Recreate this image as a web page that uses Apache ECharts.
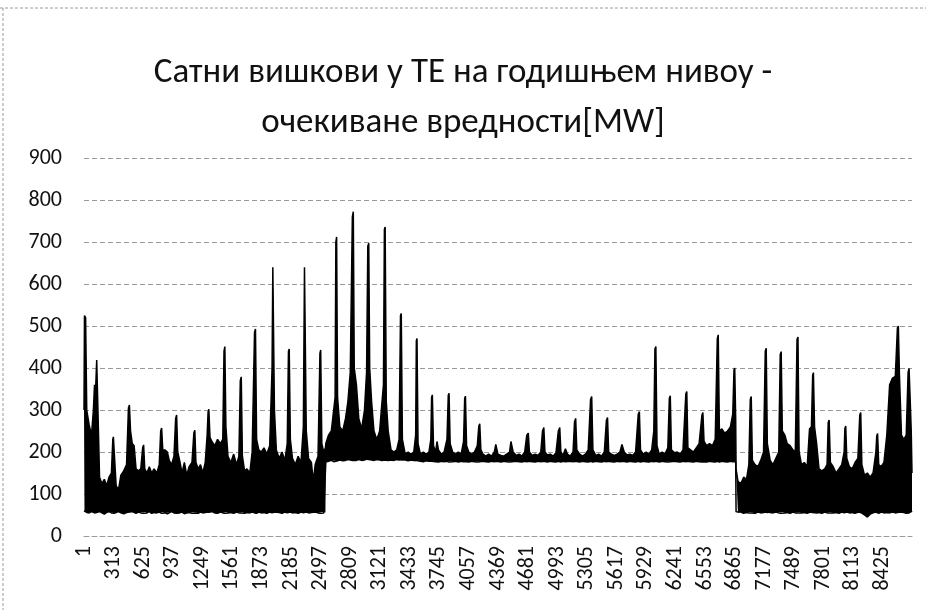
<!DOCTYPE html>
<html>
<head>
<meta charset="utf-8">
<title>Сатни вишкови у ТЕ</title>
<script src="https://cdn.jsdelivr.net/npm/echarts@6/dist/echarts.min.js"></script>
<style>
  html, body { margin: 0; padding: 0; background: #ffffff; }
  #chart { width: 926px; height: 610px; }
</style>
</head>
<body>
<div id="chart"></div>
<script>
// Chart texts and axis settings
const titleText = 'Сатни вишкови у ТЕ на годишњем нивоу -\nочекиване вредности[MW]';
const hourCount = 8736;          // 52 weeks of hourly values
const xLabelStep = 312;          // a label every 312 hours: 1, 313, 625 ...
const yMin = 0, yMax = 900, yStep = 100;

// Hourly surplus envelope per part of the year: [hour, lowest MW, highest MW]
const envelopeWinterSpring = [
  [1, 60, 300], [6, 60, 525], [18, 58, 520], [30, 56, 300], [55, 55, 265], [80, 58, 240],
  [100, 57, 300], [112, 55, 360], [122, 58, 340], [135, 56, 419], [148, 55, 300], [165, 58, 140],
  [190, 55, 125], [215, 52, 135], [240, 56, 120], [265, 58, 140], [290, 55, 150], [305, 57, 230],
  [311, 55, 236], [320, 54, 200], [340, 56, 120], [365, 58, 110], [390, 55, 145], [420, 53, 155],
  [450, 56, 170], [470, 55, 305], [480, 57, 312], [492, 55, 250], [510, 58, 220], [530, 56, 215],
  [550, 54, 160], [575, 57, 155], [600, 55, 160], [620, 56, 210], [630, 54, 217], [642, 57, 160],
  [665, 55, 150], [690, 58, 165], [715, 54, 150], [740, 56, 160], [770, 55, 150], [795, 57, 170],
  [810, 56, 250], [820, 54, 257], [832, 57, 205], [855, 55, 205], [880, 53, 200], [900, 56, 180],
  [925, 58, 170], [950, 55, 190], [968, 57, 280], [978, 54, 288], [990, 56, 200], [1010, 55, 180],
  [1035, 57, 150], [1060, 53, 175], [1085, 55, 145], [1110, 56, 165], [1140, 54, 175], [1160, 57, 245],
  [1170, 55, 252], [1182, 56, 175], [1205, 54, 160], [1230, 57, 170], [1255, 55, 150], [1280, 56, 175],
  [1300, 54, 240], [1310, 57, 295], [1318, 55, 302], [1330, 56, 235], [1350, 58, 225], [1380, 55, 215],
  [1410, 54, 230], [1440, 57, 220], [1465, 55, 230], [1478, 56, 440], [1487, 54, 451], [1498, 57, 260],
  [1520, 55, 190], [1550, 56, 175], [1580, 54, 195], [1610, 57, 170], [1635, 55, 190], [1650, 56, 370],
  [1660, 55, 379], [1672, 57, 190], [1695, 54, 155], [1720, 56, 160], [1750, 55, 150], [1775, 57, 200],
  [1800, 55, 485], [1810, 56, 493], [1822, 54, 230], [1845, 57, 205], [1870, 55, 200], [1900, 56, 210],
  [1930, 54, 195], [1960, 57, 215], [1985, 55, 400], [1993, 56, 640], [2001, 55, 643], [2010, 57, 300],
  [2030, 55, 205], [2060, 56, 185], [2090, 54, 200], [2120, 57, 180], [2145, 55, 220], [2158, 56, 440],
  [2166, 54, 445], [2178, 57, 230], [2200, 55, 185], [2230, 56, 170], [2260, 54, 190], [2290, 57, 175],
  [2315, 55, 260], [2327, 56, 640], [2335, 55, 643], [2346, 57, 250], [2370, 55, 185], [2400, 56, 175],
  [2420, 54, 130], [2440, 57, 170], [2470, 55, 190], [2490, 56, 435], [2498, 54, 443], [2510, 57, 220],
  [2530, 55, 200], [2548, 56, 210]
];

const envelopeSummer = [
  [2552, 176, 220], [2580, 178, 240], [2610, 180, 250], [2635, 177, 300], [2650, 179, 330], [2658, 178, 700],
  [2666, 180, 712], [2676, 178, 330], [2700, 181, 260], [2730, 179, 250], [2760, 180, 280], [2785, 182, 320],
  [2810, 181, 390], [2832, 180, 760], [2842, 182, 772], [2852, 181, 400], [2875, 180, 360], [2900, 182, 280],
  [2930, 180, 255], [2960, 181, 300], [2982, 183, 390], [2995, 181, 690], [3005, 182, 697], [3015, 180, 400],
  [3035, 181, 320], [3060, 180, 250], [3090, 182, 230], [3120, 181, 250], [3145, 180, 320], [3160, 182, 360],
  [3170, 181, 730], [3178, 180, 736], [3190, 182, 320], [3210, 180, 250], [3240, 181, 205], [3270, 180, 200],
  [3300, 182, 205], [3325, 181, 230], [3340, 180, 525], [3348, 182, 530], [3360, 180, 230], [3390, 181, 195],
  [3420, 179, 200], [3450, 181, 195], [3480, 180, 200], [3500, 178, 240], [3507, 180, 465], [3514, 179, 470],
  [3525, 181, 220], [3550, 178, 195], [3580, 177, 200], [3610, 179, 195], [3640, 178, 200], [3660, 176, 230],
  [3668, 178, 330], [3676, 177, 336], [3688, 179, 215], [3710, 177, 200], [3725, 178, 225], [3740, 176, 205],
  [3770, 178, 195], [3800, 177, 200], [3830, 178, 230], [3844, 177, 335], [3852, 176, 340], [3864, 178, 220],
  [3890, 177, 200], [3920, 178, 195], [3950, 176, 200], [3980, 178, 195], [4005, 177, 225], [4017, 176, 328],
  [4025, 178, 333], [4037, 177, 215], [4060, 176, 200], [4090, 178, 195], [4120, 177, 200], [4150, 176, 215],
  [4166, 178, 262], [4176, 177, 267], [4188, 176, 205], [4210, 178, 195], [4240, 177, 190], [4270, 176, 195],
  [4300, 178, 190], [4330, 177, 200], [4345, 176, 218], [4355, 178, 221], [4368, 177, 195], [4400, 176, 192],
  [4430, 178, 190], [4460, 177, 195], [4490, 176, 200], [4505, 178, 225], [4515, 177, 229], [4528, 176, 200],
  [4560, 178, 192], [4590, 177, 195], [4620, 176, 190], [4650, 178, 200], [4672, 177, 240], [4688, 176, 245],
  [4700, 178, 200], [4730, 177, 192], [4760, 176, 195], [4790, 178, 192], [4820, 177, 200], [4838, 176, 250],
  [4852, 178, 258], [4864, 177, 200], [4890, 176, 193], [4920, 178, 195], [4950, 177, 190], [4980, 176, 198],
  [5005, 178, 250], [5020, 177, 258], [5032, 176, 200], [5055, 178, 192], [5080, 177, 208], [5100, 176, 195],
  [5130, 178, 190], [5160, 177, 200], [5176, 176, 272], [5188, 178, 280], [5200, 177, 205], [5230, 176, 195],
  [5260, 178, 190], [5290, 177, 195], [5320, 176, 205], [5345, 178, 325], [5357, 177, 332], [5370, 176, 205],
  [5400, 178, 192], [5430, 177, 195], [5460, 176, 190], [5490, 178, 200], [5512, 177, 275], [5524, 176, 282],
  [5536, 178, 200], [5565, 177, 195], [5595, 176, 192], [5625, 178, 195], [5655, 177, 200], [5676, 176, 218],
  [5686, 178, 221], [5700, 177, 200], [5730, 176, 193], [5760, 178, 195], [5790, 177, 192], [5820, 176, 200],
  [5848, 178, 290], [5860, 177, 296], [5872, 176, 205], [5900, 178, 195], [5930, 177, 200], [5960, 176, 195],
  [5990, 178, 205], [6012, 177, 250], [6024, 176, 445], [6034, 178, 451], [6046, 177, 215], [6070, 176, 195],
  [6100, 178, 200], [6130, 177, 195], [6160, 176, 210], [6176, 178, 328], [6186, 177, 334], [6198, 176, 205],
  [6230, 178, 198], [6260, 177, 200], [6290, 176, 195], [6320, 178, 205], [6350, 177, 338], [6360, 176, 344],
  [6372, 178, 210], [6400, 177, 205], [6430, 176, 200], [6460, 178, 210], [6490, 177, 220], [6520, 176, 288],
  [6530, 178, 294], [6542, 177, 225], [6570, 176, 215], [6600, 178, 220], [6630, 177, 215], [6660, 176, 230],
  [6682, 178, 470], [6692, 177, 479], [6704, 176, 250], [6730, 178, 255], [6760, 177, 245], [6790, 176, 250],
  [6820, 178, 260], [6845, 177, 290], [6858, 176, 395], [6866, 178, 400], [6876, 177, 280]
];

const envelopeAutumnWinter = [
  [6880, 58, 160], [6900, 55, 130], [6930, 57, 125], [6960, 54, 140], [6990, 56, 135], [7015, 55, 170],
  [7030, 57, 325], [7040, 55, 332], [7052, 56, 180], [7080, 54, 170], [7110, 57, 165], [7140, 55, 180],
  [7170, 56, 200], [7188, 55, 440], [7198, 57, 447], [7210, 54, 220], [7240, 56, 180], [7270, 55, 170],
  [7300, 57, 185], [7330, 55, 200], [7346, 56, 432], [7356, 54, 439], [7368, 57, 250], [7395, 55, 240],
  [7420, 56, 220], [7450, 54, 215], [7480, 57, 205], [7505, 55, 200], [7523, 56, 468], [7533, 55, 474],
  [7545, 57, 200], [7570, 55, 170], [7600, 56, 175], [7630, 54, 165], [7655, 57, 255], [7675, 55, 260],
  [7688, 56, 382], [7696, 55, 389], [7708, 57, 260], [7730, 55, 220], [7755, 56, 160], [7785, 54, 155],
  [7815, 57, 160], [7840, 55, 170], [7852, 56, 270], [7862, 55, 276], [7875, 57, 175], [7905, 55, 165],
  [7935, 56, 150], [7965, 54, 160], [7995, 57, 170], [8020, 55, 200], [8028, 56, 256], [8037, 55, 262],
  [8048, 57, 185], [8075, 55, 165], [8105, 56, 160], [8135, 54, 175], [8165, 57, 185], [8185, 55, 288],
  [8195, 56, 294], [8207, 54, 170], [8235, 50, 145], [8265, 45, 150], [8295, 52, 140], [8325, 55, 150],
  [8355, 57, 200], [8364, 55, 238], [8373, 56, 244], [8385, 54, 170], [8410, 57, 165], [8440, 55, 175],
  [8470, 56, 240], [8500, 55, 360], [8530, 57, 376], [8560, 55, 380], [8582, 56, 495], [8592, 55, 500],
  [8604, 57, 380], [8625, 55, 240], [8650, 56, 230], [8675, 54, 240], [8695, 57, 390], [8705, 55, 399],
  [8716, 56, 330], [8728, 58, 250], [8736, 60, 150]
];

// Hour categories 1..8736
const hourCategories = [];
for (let h = 1; h <= hourCount; h++) hourCategories.push(String(h));

const envelope = envelopeWinterSpring.concat(envelopeSummer, envelopeAutumnWinter);
const lowerEdge = envelope.map(p => [String(p[0]), p[1]]);
const bandHeight = envelope.map(p => [String(p[0]), p[2] - p[1]]);

const labelFont = 'Calibri, Carlito, "Open Sans", "Noto Sans", sans-serif';
const gridLine = { color: '#9a9a9a', width: 1, type: [5, 3] };

const chart = echarts.init(document.getElementById('chart'), null, { renderer: 'canvas' });
chart.setOption({
  animation: false,
  backgroundColor: '#ffffff',
  title: {
    text: titleText,
    left: 'center',
    top: 43,
    textStyle: {
      fontFamily: labelFont,
      fontSize: 35,
      fontWeight: 'normal',
      color: '#111',
      lineHeight: 50
    }
  },
  graphic: [
    { type: 'line', shape: { x1: 0, y1: 8, x2: 926, y2: 8 },
      style: { stroke: '#9a9a9a', lineWidth: 1, lineDash: [3, 2] }, silent: true },
    { type: 'line', shape: { x1: 3, y1: 8, x2: 3, y2: 610 },
      style: { stroke: '#9a9a9a', lineWidth: 1, lineDash: [3, 2] }, silent: true }
  ],
  grid: { left: 84, right: 14, top: 158, bottom: 74, containLabel: false },
  xAxis: {
    type: 'category',
    data: hourCategories,
    boundaryGap: false,
    axisLine: { show: true, lineStyle: gridLine },
    axisTick: { show: false },
    axisLabel: {
      interval: xLabelStep - 1,
      rotate: 90,
      margin: 10,
      fontFamily: labelFont,
      fontSize: 22,
      color: '#111'
    },
    splitLine: { show: false }
  },
  yAxis: {
    type: 'value',
    min: yMin,
    max: yMax,
    interval: yStep,
    axisLine: { show: false },
    axisTick: { show: false },
    axisLabel: {
      margin: 22,
      fontFamily: labelFont,
      fontSize: 22,
      color: '#111'
    },
    splitLine: { show: true, lineStyle: gridLine }
  },
  series: [
    {
      name: 'min',
      type: 'line',
      stack: 'surplus',
      data: lowerEdge,
      symbol: 'none',
      silent: true,
      lineStyle: { color: '#000', width: 1.5 }
    },
    {
      name: 'range',
      type: 'line',
      stack: 'surplus',
      data: bandHeight,
      symbol: 'none',
      silent: true,
      lineStyle: { color: '#000', width: 1.5 },
      areaStyle: { color: '#000', opacity: 1 }
    }
  ]
});
</script>
</body>
</html>
